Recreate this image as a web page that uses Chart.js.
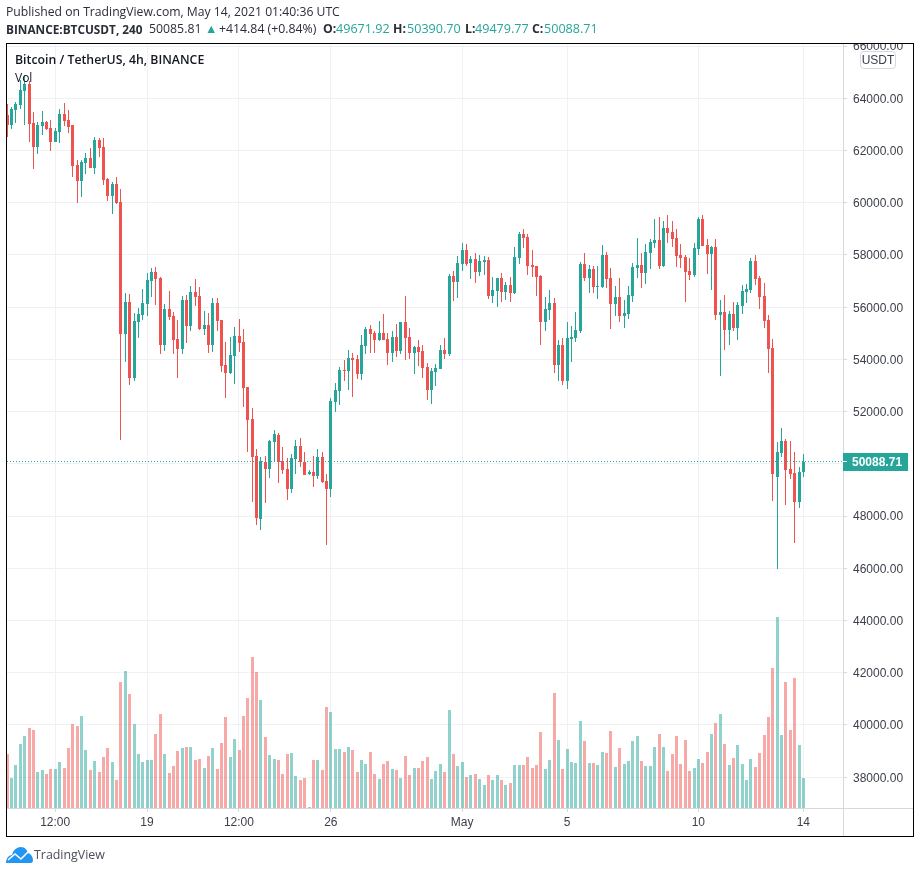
<!DOCTYPE html>
<html lang="en">
<head>
    <meta charset="UTF-8">
    <title>BTCUSDT 4h</title>
    <script src="https://cdn.jsdelivr.net/npm/chart.js"></script>
    <style>
        html, body { margin: 0; padding: 0; background: #fff; }
        body { width: 920px; height: 873px; position: relative; overflow: hidden; font-family: "Open Sans", sans-serif; color: #131722; }
        canvas { position: absolute; left: 0; top: 0; }
        .txt { position: absolute; white-space: nowrap; }
        #published { left: 6px; top: 4px; font-size: 12.2px; line-height: 16px; color: #2a2e39; }
        #quote { left: 0; top: 21px; font-size: 12.3px; line-height: 16px; color: #2a2e39; }
        #quote > * { position: absolute; top: 0; }
        #quote b { font-weight: 700; color: #2a2e39; }
        #quote b.sym { font-size: 11.8px; }
        #quote .num { color: #26a69a; font-size: 12.6px; }
        #title { left: 15px; top: 52px; font-size: 12.3px; line-height: 16px; font-weight: 600; color: #131722; }
        #vol { left: 15px; top: 70px; font-size: 12px; line-height: 16px; color: #131722; }
        #unit { left: 860px; top: 51px; width: 34px; height: 16px; line-height: 16px; border: 1px solid #d6d8e0; border-radius: 4px; background: #fff; text-align: center; font: 12px/16px "Liberation Sans", sans-serif; color: #3c404b; }
        #logo { left: 6px; top: 846px; }
        #brand { left: 34px; top: 846px; font-size: 12.4px; line-height: 18px; color: #4a4e59; }
    </style>
</head>
<body>
    <canvas id="btcChart" width="920" height="873"></canvas>
    <div class="txt" id="published">Published on TradingView.com, May 14, 2021 01:40:36 UTC</div>
    <div class="txt" id="quote">
        <b class="sym" style="left:6px">BINANCE:BTCUSDT, 240</b>
        <span style="left:149px">50085.81</span>
        <span class="num" style="left:205px">▲</span>
        <span style="left:219px">+414.84 (+0.84%)</span>
        <b style="left:323px">O:</b><span class="num" style="left:336px">49671.92</span>
        <b style="left:393px">H:</b><span class="num" style="left:407px">50390.70</span>
        <b style="left:465px">L:</b><span class="num" style="left:475px">49479.77</span>
        <b style="left:532px">C:</b><span class="num" style="left:544px">50088.71</span>
    </div>
    <div class="txt" id="title">Bitcoin / TetherUS, 4h, BINANCE</div>
    <div class="txt" id="vol">Vol</div>
    <div class="txt" id="unit">USDT</div>
    <svg class="txt" id="logo" width="27" height="18" viewBox="0 0 27 18">
        <path d="M0 17 C0 12 3 9 6 9 C7 4 11 1 15 1 C19 1 21 4 22 7 C25 8 27 11 27 14 C27 16 26 17 25 17 Z" fill="#2196f3"/>
        <path d="M2 14 L9 8 L15 13 L22 6" fill="none" stroke="#fff" stroke-width="1.6"/>
    </svg>
    <div class="txt" id="brand">TradingView</div>
    <script>
        const opens = [
            63362, 62979, 63553, 63745, 64281, 64548, 63056, 62137, 62941, 63094,
            62864, 62328, 62711, 63400, 63170, 62979, 61448, 60835, 61524, 61716,
            61333, 62405, 62137, 60912, 60261, 60720, 60031, 54979, 56204, 53295,
            55438, 55706, 56127, 57008, 57352, 57123, 54558, 55936, 55668, 54787,
            54405, 56280, 55285, 56587, 56434, 55170, 55323, 54558, 56166, 55515,
            53792, 53486, 54137, 54902, 54673, 52950, 51725, 50309, 47897, 50079,
            49811, 50845, 51113, 50117, 49811, 49045, 50194, 50691, 50079, 49619,
            49696, 49543, 50270, 49351, 49045, 52375, 52797, 53600, 53562, 54060,
            54021, 53447, 54519, 55170, 55017, 54749, 55017, 54787, 54251, 54864,
            54328, 55438, 54864, 54251, 54481, 54328, 53715, 52835, 53524, 53639,
            54366, 54213, 57199, 56969, 57658, 58194, 57696, 57849, 57352, 57735,
            57811, 56433, 56625, 57122, 56586, 56854, 56548, 57888, 58806, 58692,
            57620, 57582, 57199, 55438, 55897, 56165, 53792, 54557, 53179, 54787,
            54825, 55093, 57658, 57122, 57467, 56778, 56778, 58003, 57122, 56127,
            56395, 55668, 55744, 56433, 57505, 57620, 57314, 58079, 58462, 58577,
            57582, 59036, 58883, 58653, 58003, 57926, 57390, 57237, 58232, 59381,
            58385, 58041, 58309, 55706, 55821, 55132, 55744, 55208, 56050, 56586,
            56663, 57773, 57122, 56433, 55514, 54443, 49504, 50423, 50882, 49811,
            49658, 48547, 49671.92
        ];
        const highs = [
            63783, 63681, 63872, 64702, 64893, 64663, 63477, 63094, 63515, 63132,
            63170, 62864, 63591, 63821, 63553, 62979, 61639, 61639, 61907, 62099,
            62520, 62481, 62481, 60950, 60797, 60988, 60529, 56548, 56510, 55783,
            55974, 56701, 57314, 57505, 57544, 57161, 56127, 56625, 55821, 55515,
            56434, 56472, 56816, 57084, 56778, 55859, 55783, 56357, 56357, 55515,
            54673, 54864, 55247, 55553, 55170, 52950, 52146, 50577, 50258, 50309,
            50921, 51304, 51189, 50653, 50232, 50385, 50921, 50997, 50461, 49747,
            50308, 50576, 50461, 49619, 52529, 53103, 53715, 53983, 54366, 54251,
            54175, 54940, 55246, 55323, 55093, 55476, 55744, 55017, 55093, 55361,
            55438, 56433, 55208, 54519, 54749, 54557, 53868, 53677, 53830, 54557,
            54825, 57275, 57390, 57964, 58462, 58424, 57964, 58079, 58003, 57964,
            57926, 57160, 57122, 57314, 56969, 57160, 58309, 58883, 58998, 58806,
            58194, 57582, 57237, 56395, 56663, 56357, 54749, 54825, 55438, 55285,
            55821, 57735, 58079, 57620, 57582, 57582, 58385, 58118, 57505, 56816,
            57122, 56280, 56816, 57696, 58653, 58079, 58424, 58615, 59381, 59457,
            59304, 59534, 59304, 58998, 58424, 58003, 57888, 58462, 59457, 59534,
            58615, 58347, 58615, 56280, 56471, 55859, 56203, 56203, 56854, 56892,
            57888, 58003, 57199, 56931, 55706, 54787, 50844, 51380, 50959, 50882,
            50461, 49887, 50390.70
        ];
        const lows = [
            62532, 62813, 63068, 63591, 62979, 62328, 61295, 61869, 62596, 62788,
            61984, 62328, 62290, 62941, 62673, 60988, 59993, 60223, 61103, 61333,
            61103, 61754, 60682, 60070, 59572, 59955, 50921, 53907, 53027, 53180,
            54826, 55515, 55668, 56395, 56089, 54213, 54328, 55515, 54213, 53295,
            54213, 54634, 55094, 56051, 55132, 54941, 54252, 54290, 55094, 53524,
            52529, 53448, 53065, 54290, 52184, 50462, 48548, 47667, 47476, 48510,
            49467, 50105, 49275, 49620, 48624, 48892, 49620, 49887, 49581, 49556,
            49122, 49428, 49275, 46901, 48739, 51993, 52261, 53179, 52835, 52567,
            53256, 53218, 54213, 54251, 54251, 54710, 54749, 53792, 53907, 54098,
            54213, 53983, 54021, 53447, 53753, 53294, 52452, 52299, 52988, 53639,
            54021, 54136, 56242, 56357, 57390, 57582, 57084, 56931, 57199, 57237,
            56318, 56165, 56012, 56203, 56280, 56203, 56510, 57658, 58271, 57237,
            57160, 56433, 54557, 55093, 55514, 53486, 53179, 53026, 52873, 53907,
            54672, 55017, 57007, 56548, 56548, 56318, 56739, 56739, 55170, 55668,
            55438, 55208, 55553, 56203, 57122, 56739, 56892, 57467, 58271, 57467,
            57543, 58462, 58309, 57543, 57505, 56203, 57046, 57160, 58003, 58347,
            57275, 56663, 55514, 53371, 54366, 54557, 55093, 54749, 55744, 56165,
            56548, 56854, 55935, 55208, 53486, 48586, 45983, 50270, 48433, 49428,
            46978, 48318, 49479.77
        ];
        const closes = [
            62979, 63591, 63783, 64319, 64548, 63017, 62137, 62979, 63094, 62826,
            62328, 62749, 63400, 63132, 62902, 61410, 60835, 61563, 61716, 61333,
            62405, 62099, 60874, 60261, 60720, 59993, 54979, 56204, 53295, 55477,
            55744, 56166, 57046, 57352, 57084, 54558, 55936, 55630, 54749, 54405,
            56280, 55285, 56587, 56395, 55170, 55323, 54558, 56166, 55477, 53754,
            53486, 54175, 54902, 54634, 52912, 51687, 50270, 47935, 50105, 49811,
            50883, 51151, 50079, 49773, 49045, 50232, 50692, 50079, 49581, 49696,
            49543, 50270, 49313, 49045, 52414, 52835, 53600, 53562, 54060, 53983,
            53447, 54557, 55170, 54979, 54749, 55017, 54749, 54251, 54864, 54328,
            55438, 54825, 54251, 54481, 54289, 53677, 52835, 53562, 53677, 54366,
            54213, 57199, 56969, 57696, 58194, 57658, 57849, 57352, 57773, 57811,
            56433, 56663, 57122, 56586, 56854, 56548, 57926, 58806, 58653, 57582,
            57543, 57160, 55438, 55935, 56165, 53792, 54557, 53179, 54825, 54864,
            55132, 57658, 57122, 57467, 56778, 56816, 58003, 57084, 56127, 56395,
            55668, 55782, 56471, 57543, 57620, 57314, 58118, 58500, 58577, 57582,
            59036, 58845, 58615, 57964, 57888, 57352, 57237, 58271, 59381, 58347,
            58041, 58309, 55706, 55821, 55132, 55744, 55208, 56089, 56625, 56701,
            57773, 57084, 56395, 55476, 54404, 49619, 50461, 50882, 49772, 49619,
            48547, 49696, 50088.71
        ];
        // volume in hundreds of BTC
        const volumes = [
            163, 91, 130, 193, 217, 241, 235, 109, 115, 103,
            118, 118, 139, 121, 181, 253, 247, 277, 175, 115,
            142, 109, 154, 181, 139, 85, 379, 412, 343, 253,
            163, 139, 145, 145, 223, 283, 163, 106, 127, 172,
            181, 184, 184, 145, 148, 121, 157, 181, 118, 196,
            274, 154, 208, 175, 277, 331, 454, 409, 325, 214,
            160, 148, 145, 103, 163, 166, 97, 85, 91, 4,
            145, 145, 115, 304, 289, 178, 178, 169, 184, 175,
            109, 145, 133, 169, 103, 88, 133, 142, 118, 115,
            91, 157, 100, 121, 121, 142, 154, 88, 112, 133,
            109, 295, 163, 127, 139, 94, 100, 103, 88, 70,
            100, 85, 100, 85, 70, 76, 130, 130, 130, 154,
            121, 130, 229, 118, 145, 346, 205, 118, 178, 139,
            136, 262, 202, 136, 136, 130, 169, 166, 232, 124,
            181, 133, 142, 202, 217, 142, 127, 127, 184, 223,
            184, 112, 163, 217, 133, 205, 112, 121, 148, 136,
            169, 223, 256, 283, 193, 130, 151, 190, 133, 85,
            148, 124, 166, 220, 274, 421, 574, 220, 379, 235,
            391, 190, 91
        ];
        const timeTickIndex = [11, 32, 53, 74, 104, 128, 158, 182];
        const timeTickLabels = ['12:00', '19', '12:00', '26', 'May', '5', '10', '14'];
        const priceTicks = [38000, 40000, 42000, 44000, 46000, 48000, 50000, 52000, 54000, 56000, 58000, 60000, 62000, 64000, 66000];

        const UP = '#26a69a';
        const DOWN = '#ef5350';
        const GRID = '#f0f1f4';
        const LINE = '#d6d8e0';
        const TEXT = '#3c404b';
        const AXIS_FONT = { family: '"Liberation Sans", sans-serif', size: 12 };

        const isUp = closes.map((c, i) => c >= opens[i]);
        const candleColors = isUp.map(u => u ? UP : DOWN);
        const volumeColors = isUp.map(u => u ? 'rgba(38,166,154,0.5)' : 'rgba(239,83,80,0.5)');

        // bars land on whole pixels in the original, so snap them after the scales placed them
        const snapBars = {
            id: 'snapBars',
            beforeDatasetsDraw(chart) {
                chart.data.datasets.forEach((ds, d) => {
                    chart.getDatasetMeta(d).data.forEach(bar => {
                        bar.x = Math.floor(bar.x + 0.1) + 0.5;
                        bar.y = Math.round(bar.y);
                        bar.base = Math.round(bar.base);
                        if (bar.y === bar.base) bar.y = bar.base - 1;
                    });
                });
            }
        };

        // frame, separators and the last price marker
        const decorations = {
            id: 'decorations',
            afterDatasetsDraw(chart) {
                const ctx = chart.ctx;
                const area = chart.chartArea;
                const last = closes[closes.length - 1];
                const y = Math.floor(chart.scales.y.getPixelForValue(last)) + 0.5;
                ctx.save();
                ctx.strokeStyle = UP;
                ctx.lineWidth = 1;
                ctx.setLineDash([1, 2]);
                ctx.beginPath();
                ctx.moveTo(area.left, y);
                ctx.lineTo(area.right, y);
                ctx.stroke();
                ctx.restore();
            },
            afterDraw(chart) {
                const ctx = chart.ctx;
                const area = chart.chartArea;
                const last = closes[closes.length - 1];
                const y = Math.round(chart.scales.y.getPixelForValue(last));
                ctx.save();
                // the 66000 label is cut by the top of the pane
                ctx.fillStyle = '#fff';
                ctx.fillRect(area.right + 1, 0, 76, 43);

                ctx.strokeStyle = LINE;
                ctx.lineWidth = 1;
                ctx.beginPath();
                ctx.moveTo(area.right + 0.5, 44);
                ctx.lineTo(area.right + 0.5, 836);
                ctx.moveTo(7, area.bottom + 0.5);
                ctx.lineTo(913, area.bottom + 0.5);
                ctx.stroke();

                ctx.fillStyle = UP;
                ctx.fillRect(area.right, y - 9, 65, 18);
                ctx.fillStyle = '#fff';
                ctx.fillRect(area.right, y - 1, 4, 1);
                ctx.font = 'bold 12px "Liberation Sans", sans-serif';
                ctx.textAlign = 'left';
                ctx.textBaseline = 'middle';
                ctx.fillText(last.toFixed(2), 852, y + 1);

                ctx.strokeStyle = '#000';
                ctx.strokeRect(6.5, 43.5, 907, 793);
                ctx.restore();
            }
        };

        new Chart(document.getElementById('btcChart'), {
            type: 'bar',
            data: {
                datasets: [
                    {
                        label: 'Vol',
                        yAxisID: 'yVol',
                        order: 3,
                        barThickness: 3,
                        inflateAmount: 0,
                        grouped: false,
                        backgroundColor: volumeColors,
                        data: volumes.map((v, i) => ({ x: i, y: v }))
                    },
                    {
                        label: 'High-Low',
                        yAxisID: 'y',
                        order: 2,
                        barThickness: 1,
                        inflateAmount: 0,
                        grouped: false,
                        backgroundColor: candleColors,
                        data: highs.map((h, i) => ({ x: i, y: [lows[i], h] }))
                    },
                    {
                        label: 'Open-Close',
                        yAxisID: 'y',
                        order: 1,
                        barThickness: 3,
                        inflateAmount: 0,
                        grouped: false,
                        backgroundColor: candleColors,
                        data: opens.map((o, i) => ({ x: i, y: [o, closes[i]] }))
                    }
                ]
            },
            options: {
                responsive: false,
                animation: false,
                layout: { padding: { left: 7, top: 44, right: 7, bottom: 37 } },
                plugins: { legend: { display: false }, tooltip: { enabled: false } },
                scales: {
                    x: {
                        type: 'linear',
                        offset: false,
                        min: -0.01,
                        max: 191.07,
                        border: { display: false },
                        grid: { color: GRID, tickColor: LINE, tickLength: 4, offset: false },
                        ticks: {
                            autoSkip: false,
                            maxRotation: 0,
                            padding: 3,
                            color: TEXT,
                            font: AXIS_FONT,
                            callback: v => timeTickLabels[timeTickIndex.indexOf(v)]
                        },
                        afterBuildTicks(scale) {
                            scale.ticks = timeTickIndex.map(v => ({ value: v }));
                        },
                        afterFit(scale) {
                            scale.height = 28;
                            scale.paddingLeft = 0;
                            scale.paddingRight = 0;
                        }
                    },
                    y: {
                        position: 'right',
                        min: 36821,
                        max: 66079,
                        border: { display: false },
                        grid: { color: GRID, tickColor: LINE, tickLength: 4 },
                        ticks: {
                            padding: 6,
                            labelOffset: 1,
                            color: TEXT,
                            font: AXIS_FONT,
                            callback: v => v.toFixed(2)
                        },
                        afterBuildTicks(scale) {
                            scale.ticks = priceTicks.map(v => ({ value: v }));
                        },
                        afterFit(scale) {
                            scale.width = 70;
                            scale.paddingTop = 0;
                            scale.paddingBottom = 0;
                        }
                    },
                    yVol: {
                        display: false,
                        min: 0,
                        max: 2292
                    }
                }
            },
            plugins: [snapBars, decorations]
        });
    </script>
</body>
</html>
